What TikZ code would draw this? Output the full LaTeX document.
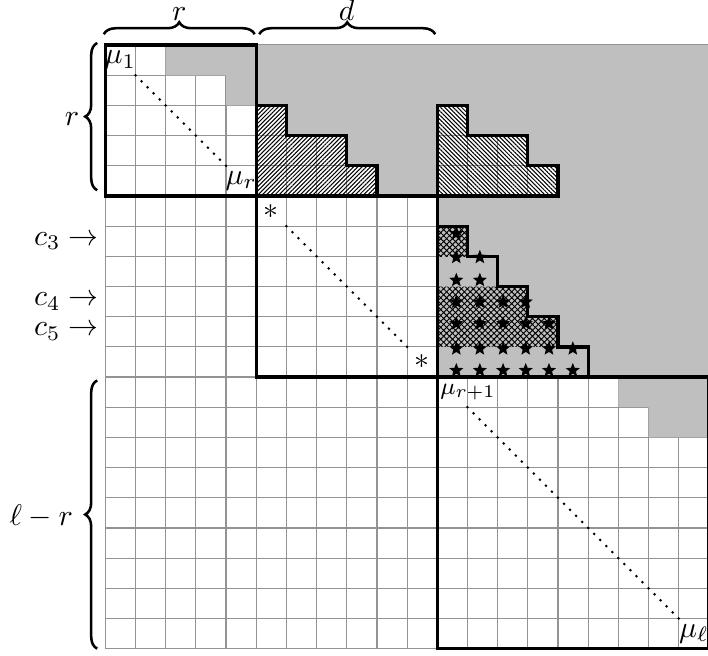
\documentclass[tikz,border=0pt]{standalone}
\usetikzlibrary{patterns.meta,decorations.pathreplacing,shapes.geometric}
\begin{document}
\begin{tikzpicture}[x=0.355cm,y=-0.355cm,
  gridline/.style={draw=gray!85, line width=0.4pt},
  shade/.style={fill=gray!50},
  thickline/.style={line width=1.1pt, line join=miter},
  nehatch/.style={pattern={Lines[angle=45,distance=1.0pt,line width=0.35pt]}},
  nwhatch/.style={pattern={Lines[angle=-45,distance=1.0pt,line width=0.35pt]}},
  xhatch/.style={pattern={Hatch[angle=45,distance=1.4pt,line width=0.32pt]}},
  diag/.style={line width=1pt, line cap=round, dash pattern=on 0pt off 2.856pt},
  starmark/.style={star, star points=5, star point ratio=2.3, fill=black, draw=none, inner sep=0pt, minimum size=0.175cm},
  bracestyle/.style={decorate, decoration={brace, amplitude=4pt}, line width=0.85pt},
  lbl/.style={inner sep=0pt},
]
\useasboundingbox (-3.49,-1.493) rectangle (19.97,20.232);

% grid
\foreach \k in {0,...,20} {
  \draw[gridline] (\k,0) -- (\k,20);
  \draw[gridline] (0,\k) -- (20,\k);
}

% gray regions (with holes for the hatched staircases)
\fill[shade, even odd rule]
  (2,0) -- (20,0) -- (20,11) -- (11,11) -- (11,5) -- (5,5) -- (5,2) -- (4,2) -- (4,1) -- (2,1) -- cycle
  (5,2) -- (6,2) -- (6,3) -- (8,3) -- (8,4) -- (9,4) -- (9,5) -- (5,5) -- cycle
  (11,2) -- (12,2) -- (12,3) -- (14,3) -- (14,4) -- (15,4) -- (15,5) -- (11,5) -- cycle;
\fill[shade] (17,11) -- (20,11) -- (20,13) -- (18,13) -- (18,12) -- (17,12) -- cycle;

% hatched staircases
\path[nehatch] (5,2) -- (6,2) -- (6,3) -- (8,3) -- (8,4) -- (9,4) -- (9,5) -- (5,5) -- cycle;
\path[nwhatch] (11,2) -- (12,2) -- (12,3) -- (14,3) -- (14,4) -- (15,4) -- (15,5) -- (11,5) -- cycle;

% stars
\foreach \yy/\n [count=\j] in {6.245/1, 7.03/2, 7.79/2, 8.51/4, 9.23/5, 10.06/6, 10.78/6} {
  \foreach \xx [count=\i] in {11.63, 12.41, 13.18, 13.93, 14.70, 15.49} {
    \ifnum\i>\n\relax\else
      \node[starmark] (st-\j-\i) at (\xx,\yy) {};
    \fi
  }
}

% crosshatched parts
\path[xhatch] (11,6) -- (12,6) -- (12,7) -- (11,7) -- cycle;
\path[xhatch] (11,8) -- (14,8) -- (14,9) -- (15,9) -- (15,10) -- (11,10) -- cycle;

% dotted diagonals
\coordinate (a1) at (1,1);   \coordinate (a2) at (4,4);
\coordinate (b1) at (6,6);   \coordinate (b2) at (10,10);
\coordinate (e1) at (12,12); \coordinate (e2) at (19,19);
\draw[diag] (a1) -- (a2);
\draw[diag] (b1) -- (b2);
\draw[diag] (e1) -- (e2);

% thick outlines
\draw[thickline] (0,0) rectangle (5,5);
\draw[thickline] (5,5) rectangle (11,11);
\draw[thickline] (11,11) rectangle (20,20);
\draw[thickline] (5,2) -- (6,2) -- (6,3) -- (8,3) -- (8,4) -- (9,4) -- (9,5) -- (5,5) -- cycle;
\draw[thickline] (11,2) -- (12,2) -- (12,3) -- (14,3) -- (14,4) -- (15,4) -- (15,5) -- (11,5) -- cycle;
\draw[thickline] (11,6) -- (12,6) -- (12,7) -- (13,7) -- (13,8) -- (14,8) -- (14,9) -- (15,9) -- (15,10) -- (16,10) -- (16,11) -- (11,11) -- cycle;

% cell labels
\node[lbl] (m1) at (0.5,0.5) {$\mu_1$};
\node[lbl] (mr) at (4.5,4.5) {$\mu_r$};
\node[lbl] (as1) at (5.5,5.5) {$*$};
\node[lbl] (as2) at (10.5,10.5) {$*$};
\node[lbl, anchor=west] (mr1) at (11.08,11.5) {\footnotesize$\mu_{r+1}$};
\node[lbl] (ml) at (19.5,19.5) {$\mu_\ell$};

% row markers
\node[anchor=east, inner sep=2pt] (c3) at (0,6.5) {$c_3 \rightarrow$};
\node[anchor=east, inner sep=2pt] (c4) at (0,8.5) {$c_4 \rightarrow$};
\node[anchor=east, inner sep=2pt] (c5) at (0,9.5) {$c_5 \rightarrow$};

% braces
\coordinate (tr1) at (-0.05,-0.36); \coordinate (tr2) at (4.95,-0.36);
\coordinate (td1) at (5.1,-0.36);   \coordinate (td2) at (10.93,-0.36);
\coordinate (lr1) at (-0.27,4.81);  \coordinate (lr2) at (-0.27,-0.07);
\coordinate (ll1) at (-0.27,20);    \coordinate (ll2) at (-0.27,11.11);
\draw[bracestyle] (tr1) -- (tr2);
\draw[bracestyle] (td1) -- (td2);
\draw[bracestyle] (lr1) -- (lr2);
\draw[bracestyle] (ll1) -- (ll2);
\node[anchor=base] (lab-r) at (2.45,-0.82) {$r$};
\node[anchor=base] (lab-d) at (8.0,-0.82) {$d$};
\node (lab-r2) at (-1.1,2.45) {$r$};
\node (lab-lr) at (-2.12,15.6) {$\ell - r$};
\end{tikzpicture}
\end{document}
